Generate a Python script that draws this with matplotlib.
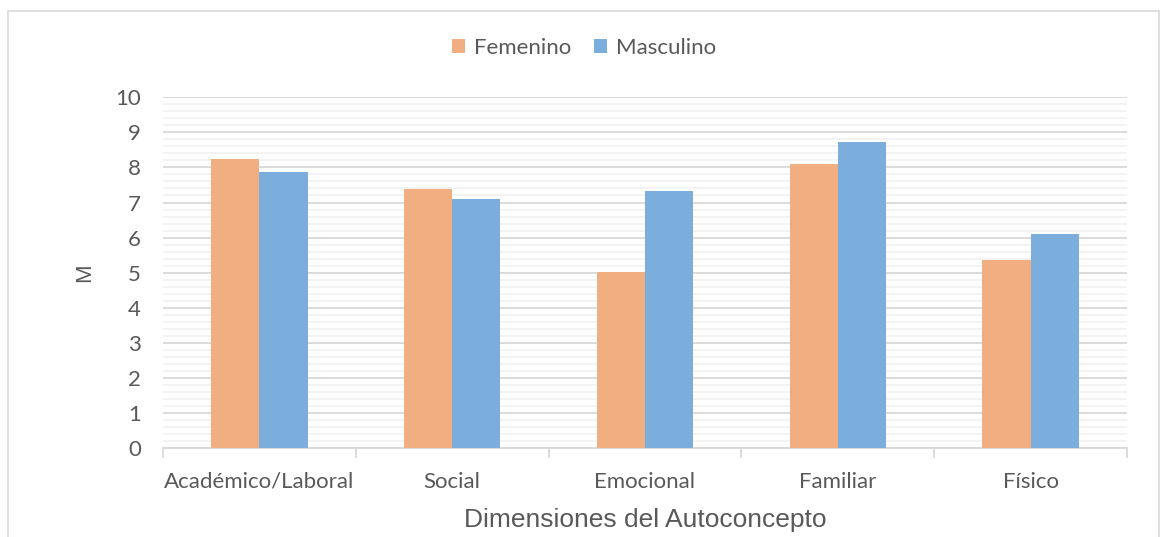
import numpy as np
import matplotlib.pyplot as plt
from matplotlib.patches import Rectangle
from matplotlib.ticker import MultipleLocator

categorias = ["Académico/Laboral", "Social", "Emocional", "Familiar", "Físico"]
femenino = [8.24, 7.38, 5.01, 8.11, 5.37]
masculino = [7.87, 7.09, 7.34, 8.73, 6.09]

c_fem = "#F1AF81"
c_masc = "#7CAEDD"
gris = "#595959"

fig = plt.figure(figsize=(11.68, 5.37), dpi=100)
W, H = 1168, 537
ax = fig.add_axes([163 / W, 1 - 448 / H, (1127 - 163) / W, (448 - 97.3) / H])

x = np.arange(len(categorias))
w = 0.25
ax.bar(x - w / 2, femenino, w, color=c_fem, label="Femenino", zorder=3)
ax.bar(x + w / 2, masculino, w, color=c_masc, label="Masculino", zorder=3)

ax.set_xlim(-0.5, len(categorias) - 0.5)
ax.set_ylim(0, 10)
ax.yaxis.set_major_locator(MultipleLocator(1))
ax.yaxis.set_minor_locator(MultipleLocator(0.2))
ax.grid(axis="y", which="major", color="#D9D9D9", lw=1.3, zorder=0)
ax.grid(axis="y", which="minor", color="#F2F2F2", lw=1.3, zorder=0)

ax.set_xticks(x)
ax.set_xticklabels(categorias, fontfamily="Lato", fontsize=16, color=gris)
ax.set_xticks(np.arange(len(categorias) + 1) - 0.5, minor=True)
ax.tick_params(axis="x", which="major", length=0, pad=17)
ax.tick_params(axis="x", which="minor", length=7, color="#D9D9D9", width=1.3)
ax.tick_params(axis="y", which="both", length=0, pad=16, labelsize=16, labelcolor=gris)
for t in ax.get_yticklabels():
    t.set_fontfamily("Lato")

for s in ["top", "right", "left"]:
    ax.spines[s].set_visible(False)
ax.spines["bottom"].set_color("#D9D9D9")
ax.spines["bottom"].set_linewidth(1.3)

ax.set_xlabel("Dimensiones del Autoconcepto", fontfamily="Liberation Sans",
              fontsize=19, color=gris, labelpad=12)
ax.set_ylabel("M", fontfamily="Liberation Sans", fontsize=16, color=gris, labelpad=14)

leg = fig.legend(loc="center", bbox_to_anchor=(0.5, 1 - 48 / H), ncol=2, frameon=False,
                 prop={"family": "Lato", "size": 16}, handlelength=0.6, handleheight=0.6,
                 columnspacing=1.0, handletextpad=0.4)
for t in leg.get_texts():
    t.set_color(gris)

fig.patches.append(Rectangle((8 / W, -0.1), (W - 9) / W - 8 / W, 1.1 - 11 / H,
                             transform=fig.transFigure, fill=False,
                             edgecolor="#D9D9D9", lw=1.2))

fig.savefig("out.png", dpi=100)
